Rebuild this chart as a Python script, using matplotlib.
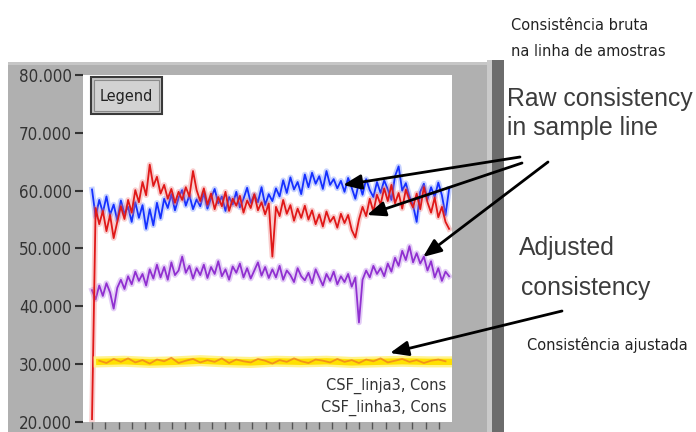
import matplotlib
matplotlib.use('Agg')
import matplotlib.pyplot as plt
from matplotlib import font_manager as fm
from matplotlib.patches import Rectangle
from matplotlib.ticker import MultipleLocator
import numpy as np

# consistency readings (sample index -> value)
blue_raw = [60.2, 55.5, 58.4, 56.2, 59.0, 55.8, 57.6, 54.9, 58.3, 56.0,
            57.2, 54.6, 58.0, 55.3, 57.5, 53.4, 56.8, 54.0, 57.9, 55.2,
            58.6, 57.0, 59.4, 56.6, 58.8, 60.1, 57.4, 59.2, 56.8, 58.5,
            57.3, 59.6, 56.9, 58.7, 60.3, 57.8, 59.0, 56.5, 58.9, 57.6,
            59.8, 57.1, 58.6, 60.5, 57.9, 59.3, 58.0, 60.6, 57.5, 59.4,
            58.2, 60.4, 59.0, 61.8, 59.6, 62.3, 60.2, 61.5, 59.4, 62.8,
            60.6, 63.1, 61.2, 62.5, 60.3, 63.4, 61.0, 62.0, 60.4, 61.7,
            59.8, 62.2, 60.5, 58.6, 61.4, 59.3, 62.0, 60.1, 58.9, 61.5,
            59.6, 61.8, 60.2, 58.4, 62.5, 64.2, 60.0, 61.3, 59.0, 57.5,
            54.6, 59.8, 61.2, 58.5, 60.6, 58.9, 61.4, 59.2, 55.8, 60.3]

red_raw = [20.5, 57.0, 54.2, 56.5, 53.0, 55.8, 51.8, 54.6, 57.3, 55.1,
           58.4, 56.2, 60.1, 58.0, 61.5, 59.2, 64.5, 60.8, 62.4, 59.5,
           61.0, 58.6, 60.3, 57.9, 59.8, 58.4, 60.6, 59.0, 63.4, 60.1,
           58.2, 60.4, 57.6, 59.5, 56.8, 58.9, 57.3, 59.8, 56.5, 58.6,
           57.4, 59.1, 56.2, 58.3, 57.0, 59.4, 56.6, 58.0, 55.9, 57.8,
           48.6, 57.2, 55.6, 58.4, 56.0, 57.5, 54.8, 56.9, 55.3, 57.4,
           55.0, 56.6, 54.2, 55.9, 53.8, 56.4, 54.6, 55.5, 53.6, 56.0,
           54.4, 55.8, 53.2, 51.9, 55.0, 57.2, 55.6, 58.6, 56.4, 59.3,
           57.6, 60.4, 58.2, 61.0, 57.8, 59.6, 56.9, 60.2, 58.4, 57.1,
           59.5, 56.8, 60.6, 58.0, 56.2, 58.8, 55.4, 57.2, 54.6, 53.4]

purple_adj = [42.8, 41.2, 43.6, 41.8, 44.0, 42.4, 39.6, 43.2, 44.6, 43.0,
              45.2, 43.8, 46.0, 44.4, 45.6, 43.6, 46.4, 44.8, 47.2, 45.0,
              46.8, 44.6, 47.6, 45.4, 46.2, 48.6, 45.8, 47.0, 44.8, 46.6,
              45.4, 47.2, 44.9, 46.8, 45.6, 47.8, 45.2, 46.4, 44.6, 46.9,
              45.8, 47.4, 45.0, 46.6, 44.8, 46.2, 47.6, 45.3, 46.8, 44.9,
              46.4, 45.0, 47.0, 44.6, 46.2, 45.4, 44.2, 46.6, 45.2, 44.5,
              45.8, 44.0, 46.4, 45.0, 43.6, 45.6, 44.4, 46.0, 43.8, 45.2,
              44.2, 45.6, 43.4, 45.0, 37.2, 44.6, 46.2, 45.0, 47.0, 45.6,
              46.6, 45.2, 47.4, 46.0, 48.4, 47.0, 49.6, 48.0, 50.4, 47.6,
              49.2, 47.4, 48.6, 46.2, 47.8, 45.0, 46.6, 44.4, 46.0, 45.2]

yellow_setpoint = [30.4, 30.5, 30.3, 30.4, 30.6, 30.4, 30.3, 30.5,
                   30.4, 30.5, 30.3, 30.4, 30.5, 30.4, 30.4]

orange_cons = [30.6, 30.2, 30.9, 30.4, 31.0, 30.3, 30.7, 30.1, 30.8, 30.5,
               31.1, 30.2, 30.6, 30.9, 30.3, 30.7, 30.4, 31.0, 30.2, 30.8,
               30.5, 30.3, 30.9, 30.6, 30.1, 30.7, 30.4, 31.0, 30.5, 30.2,
               30.8, 30.6, 30.3, 30.9, 30.4, 30.7, 30.2, 30.8, 30.5, 31.0,
               30.3, 30.6, 30.9, 30.4, 30.7, 30.2, 30.6, 30.8, 30.5]

y_ticks = [20, 30, 40, 50, 60, 70, 80]
y_labels = ['20.000', '30.000', '40.000', '50.000', '60.000', '70.000', '80.000']
legend_names = ['CSF_linja3, Cons', 'CSF_linha3, Cons']

W, H = 696, 432

# pick a narrow font for the LabVIEW-style labels if one is installed
names = {f.name for f in fm.fontManager.ttflist}
cond = [f for f in fm.fontManager.ttflist if f.name == 'DejaVu Sans' and f.stretch == 'condensed']
if 'Liberation Sans Narrow' in names:
    nfont = dict(family=['Liberation Sans Narrow', 'DejaVu Sans'])
    k = 1.0
elif cond:
    nfont = dict(family=['DejaVu Sans'], fontstretch='condensed')
    k = 0.9
else:
    nfont = dict(family=['DejaVu Sans'])
    k = 0.8
plain = ['Liberation Sans', 'DejaVu Sans']

fig = plt.figure(figsize=(W / 100, H / 100), dpi=100)
fig.patch.set_facecolor('white')

# background overlay in pixel coordinates
bg = fig.add_axes([0, 0, 1, 1], zorder=0)
bg.set_xlim(0, W)
bg.set_ylim(H, 0)
bg.axis('off')
bg.add_patch(Rectangle((8, 62), 482, H - 62, fc='#b0b0b0', ec='none'))
bg.add_patch(Rectangle((8, 62), 482, 3, fc='#c6c6c6', ec='none'))
bg.add_patch(Rectangle((487, 60), 5, H - 60, fc='#cacaca', ec='none'))
bg.add_patch(Rectangle((492, 60), 12, H - 60, fc='#6c6c6c', ec='none'))

ax = fig.add_axes([83 / W, 1 - 422 / H, (452 - 83) / W, (422 - 75) / H], zorder=1)
ax.set_facecolor('white')
x = np.arange(len(blue_raw))
ax.plot(x, purple_adj, color='#b070e8', lw=4, alpha=0.35)
ax.plot(x, purple_adj, color='#9030d0', lw=1.3)
ax.plot(x, blue_raw, color='#6080ff', lw=4, alpha=0.35)
ax.plot(x, blue_raw, color='#1530ff', lw=1.3)
ax.plot(x, red_raw, color='#f07070', lw=4, alpha=0.35)
ax.plot(x, red_raw, color='#e01818', lw=1.3)
xy = np.arange(len(yellow_setpoint)) * 7 + 2
ax.plot(xy, yellow_setpoint, color='#fff38a', lw=8)
ax.plot(xy, yellow_setpoint, color='#ffe000', lw=4.5)
xo = np.arange(len(orange_cons)) * 2 + 2
ax.plot(xo, orange_cons, color='#f08020', lw=1.3, alpha=0.8)

ax.set_xlim(-2.5, 99.8)
ax.set_ylim(20, 80)
ax.set_yticks(y_ticks)
ax.set_yticklabels(y_labels, fontsize=13.5 * k, color='#333333', **nfont)
ax.tick_params(axis='y', direction='out', length=6, width=1.5, color='#333333', pad=2)
ax.xaxis.set_major_locator(MultipleLocator(3.7))
ax.tick_params(axis='x', direction='out', length=5, width=1, color='#555555', labelbottom=False)
for s in ax.spines.values():
    s.set_visible(False)

for i, name in enumerate(legend_names):
    ax.text(0.985, 0.105 - i * 0.065, name, transform=ax.transAxes, ha='right', va='center',
            fontsize=13 * k, color='#333333', **nfont)

# front overlay: legend button, annotations and arrows
fr = fig.add_axes([0, 0, 1, 1], zorder=2)
fr.set_xlim(0, W)
fr.set_ylim(H, 0)
fr.axis('off')
fr.patch.set_alpha(0)
fr.add_patch(Rectangle((91, 77), 71, 37, fc='#c4c4c4', ec='#3a3a3a', lw=1.5))
fr.add_patch(Rectangle((94, 80), 65, 31, fc='#d2d2d2', ec='#8a8a8a', lw=0.8))
fr.text(126.5, 96, 'Legend', ha='center', va='center', fontsize=13 * k, color='#222222', **nfont)

small = dict(fontsize=13 * k, color='#222222', va='baseline', **nfont)
big = dict(family=plain, fontsize=17.8, color='#3c3c3c', va='baseline')
fr.text(511, 30, 'Consistência bruta', **small)
fr.text(511, 56, 'na linha de amostras', **small)
fr.text(507, 106, 'Raw consistency', **big)
fr.text(507, 135, 'in sample line', **big)
fr.text(519, 255, 'Adjusted', **big)
fr.text(521, 295, 'consistency', **big)
fr.text(527, 350, 'Consistência ajustada', **small)

arrows = [((520, 157), (343, 185)),
          ((522, 163), (367, 215)),
          ((548, 162), (423, 257)),
          ((562, 311), (390, 353))]
for tail, head in arrows:
    fr.annotate('', xy=head, xytext=tail,
                arrowprops=dict(arrowstyle='-|>,head_length=1.1,head_width=0.45',
                                color='black', lw=2, shrinkA=0, shrinkB=0))

fig.savefig('out.png', dpi=100)
